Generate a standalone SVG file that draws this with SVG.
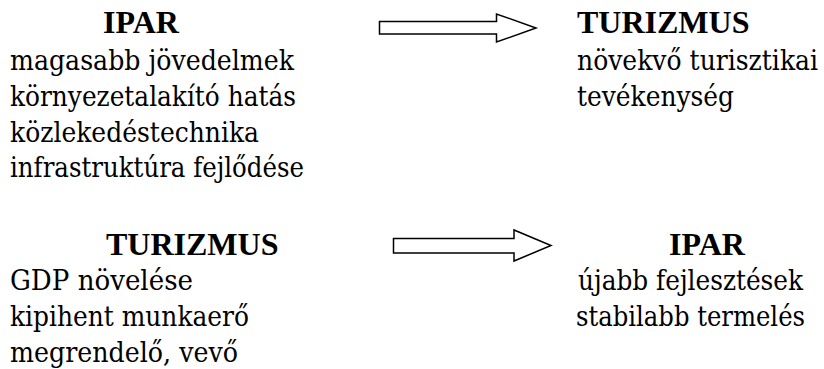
<svg xmlns="http://www.w3.org/2000/svg" width="824" height="369" viewBox="0 0 824 369">
  <style>
    .head { font-family: 'Liberation Serif', serif; font-size: 32px; font-weight: bold; fill: #000; }
    .body { font-family: 'DejaVu Serif', 'Liberation Serif', serif; font-size: 28px; fill: #000; }
    .arrow { fill: #fff; stroke: #000; stroke-width: 1.5; stroke-linejoin: miter; }
  </style>
  <rect width="824" height="369" fill="#fff"/>

  <!-- body lines are pinned with textLength so each column keeps its measure -->
  <g id="ipar-top">
    <text class="head" x="103" y="33">IPAR</text>
    <text class="body" x="10" y="70" textLength="284" lengthAdjust="spacingAndGlyphs">magasabb jövedelmek</text>
    <text class="body" x="10" y="106" textLength="286" lengthAdjust="spacingAndGlyphs">környezetalakító hatás</text>
    <text class="body" x="10" y="142" textLength="249" lengthAdjust="spacingAndGlyphs">közlekedéstechnika</text>
    <text class="body" x="10" y="177" textLength="294" lengthAdjust="spacingAndGlyphs">infrastruktúra fejlődése</text>
  </g>

  <g id="turizmus-top">
    <text class="head" x="577" y="33">TURIZMUS</text>
    <text class="body" x="577" y="70" textLength="241" lengthAdjust="spacingAndGlyphs">növekvő turisztikai</text>
    <text class="body" x="577" y="106" textLength="157" lengthAdjust="spacingAndGlyphs">tevékenység</text>
  </g>

  <g id="turizmus-bottom">
    <text class="head" x="106" y="255">TURIZMUS</text>
    <text class="body" x="10" y="290" textLength="183" lengthAdjust="spacingAndGlyphs">GDP növelése</text>
    <text class="body" x="10" y="326" textLength="239" lengthAdjust="spacingAndGlyphs">kipihent munkaerő</text>
    <text class="body" x="10" y="362" textLength="228" lengthAdjust="spacingAndGlyphs">megrendelő, vevő</text>
  </g>

  <g id="ipar-bottom">
    <text class="head" x="669" y="255">IPAR</text>
    <text class="body" x="578" y="290" textLength="225" lengthAdjust="spacingAndGlyphs">újabb fejlesztések</text>
    <text class="body" x="576" y="326" textLength="229" lengthAdjust="spacingAndGlyphs">stabilabb termelés</text>
  </g>

  <g id="connectors">
    <path class="arrow" d="M379.5,21.5 H496.5 V14 L536,28 L496.5,42 V34 H379.5 Z"/>
    <path class="arrow" d="M393.5,238.5 H514 V230 L551,245.5 L514,261 V253 H393.5 Z"/>
  </g>
</svg>
